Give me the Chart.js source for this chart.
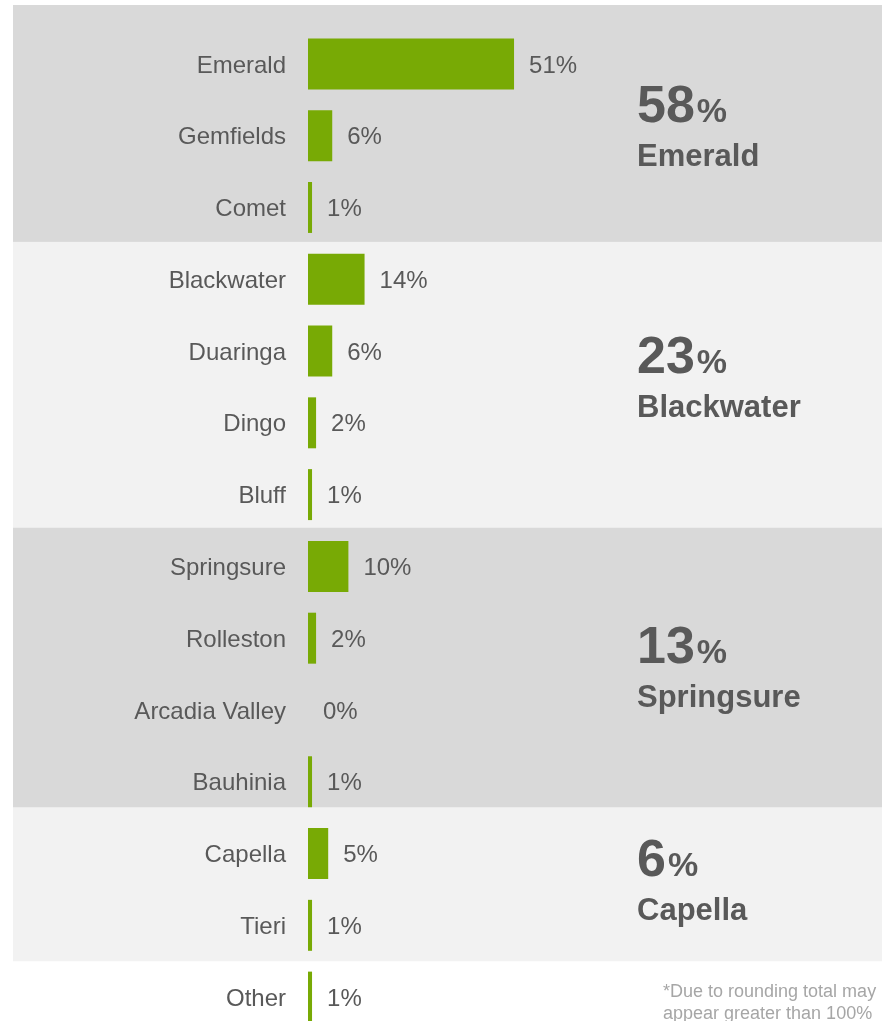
<!DOCTYPE html>
<html>
<head>
<meta charset="utf-8">
<script src="https://cdn.jsdelivr.net/npm/chart.js@4.4.1/dist/chart.umd.min.js"></script>
<style>
  html, body { margin: 0; padding: 0; background: #ffffff; overflow: hidden; }
  #wrap { position: absolute; left: 0; top: 0; width: 882px; height: 1040px; }
</style>
</head>
<body>
<div id="wrap"><canvas id="chart"></canvas></div>
<script>
// Share of production by mine
const mines = ['Emerald', 'Gemfields', 'Comet', 'Blackwater', 'Duaringa', 'Dingo', 'Bluff',
  'Springsure', 'Rolleston', 'Arcadia Valley', 'Bauhinia', 'Capella', 'Tieri', 'Other'];
const shares = [51, 6, 1, 14, 6, 2, 1, 10, 2, 0, 1, 5, 1, 1];

// Regional totals, shown beside each group of mines
const regionNames = ['Emerald', 'Blackwater', 'Springsure', 'Capella'];
const regionTotals = [58, 23, 13, 6];

const footnoteLines = ['*Due to rounding total may', 'appear greater than 100%'];

const FONT = "'Liberation Sans', Arial, sans-serif";
const TEXT = '#595959';
const GREEN = '#78AA05';

// Shaded bands behind each region (edges in category units),
// with a small vertical nudge for the region summary text
const bands = [
  { from: -0.82, to: 2.48, color: '#D9D9D9', nudge: 4 },
  { from: 2.48, to: 6.46, color: '#F2F2F2', nudge: -7 },
  { from: 6.46, to: 10.36, color: '#D9D9D9', nudge: 0 },
  { from: 10.36, to: 12.5, color: '#F2F2F2', nudge: -3 }
];

const bandsPlugin = {
  id: 'bands',
  beforeDraw(chart) {
    const { ctx } = chart;
    const y = chart.scales.y;
    ctx.save();
    ctx.fillStyle = '#ffffff';
    ctx.fillRect(0, 0, chart.width, chart.height);
    bands.forEach(b => {
      const top = y.getPixelForValue(b.from);
      const bottom = y.getPixelForValue(b.to);
      ctx.fillStyle = b.color;
      ctx.fillRect(13, top, chart.width - 13, bottom - top);
    });
    ctx.restore();
  }
};

const labelsPlugin = {
  id: 'valueLabels',
  afterDatasetsDraw(chart) {
    const { ctx } = chart;
    const y = chart.scales.y;
    const meta = chart.getDatasetMeta(0);
    ctx.save();
    // value beside each bar
    ctx.font = `24px ${FONT}`;
    ctx.fillStyle = TEXT;
    ctx.textAlign = 'left';
    ctx.textBaseline = 'middle';
    meta.data.forEach((bar, i) => {
      ctx.fillText(shares[i] + '%', bar.x + 15, bar.y + 2);
    });

    // regional totals
    regionTotals.forEach((total, i) => {
      const b = bands[i];
      const mid = (y.getPixelForValue(b.from) + y.getPixelForValue(b.to)) / 2 + b.nudge;
      const x = 637;
      ctx.textBaseline = 'alphabetic';
      ctx.font = `bold 52px ${FONT}`;
      const num = String(total);
      ctx.fillText(num, x, mid - 5);
      const w = ctx.measureText(num).width;
      ctx.font = `bold 34px ${FONT}`;
      ctx.fillText('%', x + w + 2, mid - 5);
      ctx.font = `bold 31px ${FONT}`;
      ctx.fillText(regionNames[i], x, mid + 39);
    });

    // footnote
    ctx.font = `18px ${FONT}`;
    ctx.fillStyle = '#A6A6A6';
    ctx.fillText(footnoteLines[0], 663, 997);
    ctx.fillText(footnoteLines[1], 663, 1019);
    ctx.restore();
  }
};

new Chart(document.getElementById('chart'), {
  type: 'bar',
  data: {
    labels: mines,
    datasets: [{
      data: shares,
      backgroundColor: GREEN,
      borderWidth: 0,
      categoryPercentage: 1,
      barPercentage: 0.71
    }]
  },
  options: {
    indexAxis: 'y',
    responsive: true,
    maintainAspectRatio: false,
    animation: false,
    layout: { padding: { top: 28, bottom: 7, left: 0, right: 170 } },
    plugins: { legend: { display: false }, tooltip: { enabled: false } },
    scales: {
      x: {
        display: false,
        min: 0,
        max: 100
      },
      y: {
        afterFit(scale) {
          scale.width = 308;
          // rows fill the whole plot height; no extra room for end labels
          scale.paddingTop = 0;
          scale.paddingBottom = 0;
        },
        grid: { display: false, drawTicks: false },
        border: { display: false },
        ticks: {
          padding: 22,
          labelOffset: 2,
          color: TEXT,
          font: { family: FONT, size: 24 }
        }
      }
    }
  },
  plugins: [bandsPlugin, labelsPlugin]
});
</script>
</body>
</html>
